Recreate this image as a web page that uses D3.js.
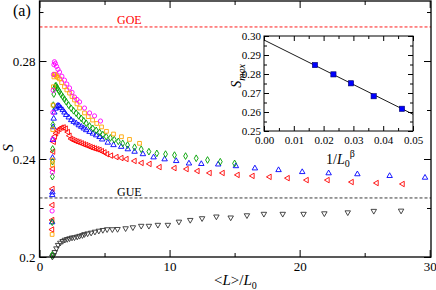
<!DOCTYPE html>
<html>
<head>
<meta charset="utf-8">
<script src="https://cdn.jsdelivr.net/npm/d3@7"></script>
<style>
  body { margin: 0; background: #fff; }
  svg { display: block; }
</style>
</head>
<body>
<div id="chart"></div>
<script>
// main panel ticks
const xMajor = [0, 10, 20, 30];
const xMinor = [5, 15, 25];
const yMajor = [0.2, 0.24, 0.28];
const yMajorLabels = ["0.2", "0.24", "0.28"];
const yMinor = [0.22, 0.26, 0.3];

// reference levels
const goeLevel = 0.2939;
const gueLevel = 0.2241;

// S vs <L>/L0, one list per L0
const magentaPts = [
  [0.97, 0.2188], [0.99, 0.2346], [1.01, 0.248], [1.03, 0.259], [1.05, 0.268],
  [1.08, 0.2745], [1.11, 0.2785], [1.15, 0.2797], [1.22, 0.279], [1.31, 0.2778],
  [1.42, 0.2766], [1.54, 0.2755], [1.72, 0.2738], [1.92, 0.2722], [2.1, 0.2706],
  [2.31, 0.269], [2.5, 0.2672], [2.69, 0.2653], [2.88, 0.2643], [3.08, 0.2633],
  [3.46, 0.2608], [3.85, 0.2588], [4.23, 0.2576], [4.69, 0.2555]
];
const orangePts = [
  [0.97, 0.2092], [0.99, 0.2376], [1.0, 0.2396], [1.02, 0.252], [1.04, 0.262],
  [1.07, 0.2695], [1.11, 0.2735], [1.15, 0.2746], [1.22, 0.2744], [1.31, 0.2738],
  [1.42, 0.2733], [1.54, 0.2727], [1.7, 0.2712], [1.92, 0.2695], [2.1, 0.2682],
  [2.31, 0.2669], [2.5, 0.2655], [2.69, 0.2641], [2.88, 0.2625], [3.08, 0.2608],
  [3.46, 0.2588], [3.75, 0.2573], [4.08, 0.2559], [4.4, 0.2545], [4.77, 0.2531],
  [5.15, 0.2513], [5.69, 0.2502], [6.3, 0.2491], [6.92, 0.248], [7.69, 0.2464]
];
const greenPts = [
  [0.97, 0.2008], [0.98, 0.2142], [0.99, 0.2328], [1.0, 0.2389], [1.01, 0.2441],
  [1.03, 0.254], [1.06, 0.262], [1.1, 0.2665], [1.16, 0.269], [1.22, 0.2698],
  [1.28, 0.2699], [1.36, 0.269], [1.45, 0.2682], [1.54, 0.2675], [1.66, 0.2664],
  [1.79, 0.2654], [1.92, 0.2644], [2.05, 0.2634], [2.24, 0.262], [2.44, 0.2607],
  [2.62, 0.2597], [2.82, 0.2587], [3.01, 0.2576], [3.21, 0.2566], [3.4, 0.2556],
  [3.59, 0.2546], [3.85, 0.2535], [4.1, 0.2525], [4.36, 0.2517], [4.62, 0.2509],
  [4.87, 0.25], [5.13, 0.2491], [5.45, 0.2486], [5.75, 0.2479], [6.06, 0.2472],
  [6.4, 0.2464], [6.77, 0.2457], [7.31, 0.2448], [7.82, 0.244], [8.41, 0.243],
  [9.02, 0.2423], [9.69, 0.242], [10.38, 0.2416], [11.23, 0.2412], [12.05, 0.2403],
  [12.92, 0.2396], [13.9, 0.2389], [15.0, 0.2382]
];
const bluePts = [
  [0.97, 0.2142], [0.98, 0.2253], [0.99, 0.2264], [1.0, 0.2405], [1.02, 0.2478],
  [1.05, 0.253], [1.09, 0.2565], [1.14, 0.259], [1.22, 0.2606], [1.32, 0.2614],
  [1.42, 0.2618], [1.52, 0.2616], [1.64, 0.2608], [1.79, 0.26], [1.92, 0.259],
  [2.05, 0.258], [2.25, 0.257], [2.44, 0.2559], [2.63, 0.2552], [2.82, 0.2546],
  [3.02, 0.2538], [3.21, 0.2532], [3.4, 0.2525], [3.59, 0.2518], [3.85, 0.2511],
  [4.1, 0.2504], [4.36, 0.2497], [4.62, 0.249], [4.82, 0.248], [5.25, 0.2467],
  [5.69, 0.2457], [6.28, 0.245], [6.79, 0.244], [7.31, 0.243], [7.95, 0.242],
  [8.77, 0.2407], [9.62, 0.2399], [10.51, 0.2392], [11.49, 0.2382], [12.44, 0.238],
  [13.74, 0.2378], [15.1, 0.2371], [16.56, 0.2362], [18.38, 0.2355], [20.2, 0.2347],
  [22.23, 0.2342], [24.44, 0.2338], [26.92, 0.2331], [29.64, 0.2324]
];
const redPts = [
  [0.97, 0.2112], [0.98, 0.2151], [0.99, 0.2212], [1.0, 0.2278], [1.02, 0.236],
  [1.05, 0.243], [1.1, 0.247], [1.18, 0.2492], [1.28, 0.2505], [1.4, 0.2515],
  [1.54, 0.2523], [1.7, 0.2528], [1.86, 0.2529], [2.02, 0.2524], [2.18, 0.251],
  [2.31, 0.2495], [2.44, 0.2482], [2.6, 0.2478], [2.76, 0.2474], [2.92, 0.2471],
  [3.08, 0.2468], [3.25, 0.2464], [3.42, 0.246], [3.59, 0.2457], [3.76, 0.2453],
  [3.93, 0.2449], [4.1, 0.2446], [4.27, 0.2443], [4.45, 0.244], [4.62, 0.2437],
  [4.8, 0.2432], [5.0, 0.2427], [5.2, 0.242], [5.5, 0.2414], [5.92, 0.2408],
  [6.3, 0.2404], [6.69, 0.24], [7.31, 0.2392], [7.85, 0.2384], [8.46, 0.238],
  [9.23, 0.2367], [10.38, 0.2363], [11.31, 0.2359], [12.15, 0.2351], [13.08, 0.2343],
  [14.08, 0.2343], [15.23, 0.2335], [16.38, 0.2331], [17.69, 0.2327], [19.08, 0.2322],
  [20.54, 0.2314], [22.15, 0.2314], [24.0, 0.2306], [25.92, 0.2302], [27.92, 0.2298]
];
const blackPts = [
  [0.99, 0.2001], [1.08, 0.2008], [1.18, 0.202], [1.3, 0.2035], [1.43, 0.2049],
  [1.6, 0.2058], [1.78, 0.2065], [1.95, 0.207], [2.13, 0.2073], [2.31, 0.2076],
  [2.5, 0.2079], [2.69, 0.208], [2.9, 0.2083], [3.08, 0.2086], [3.3, 0.2089],
  [3.46, 0.2093], [3.7, 0.2096], [3.97, 0.2099], [4.26, 0.2103], [4.56, 0.2107],
  [4.87, 0.211], [5.2, 0.2113], [5.6, 0.2113], [6.0, 0.2114], [6.62, 0.2117],
  [7.18, 0.2121], [7.82, 0.2127], [8.41, 0.2127], [9.1, 0.2131], [9.87, 0.2131],
  [10.72, 0.2144], [11.59, 0.2151], [12.5, 0.2158], [13.6, 0.2165], [14.7, 0.2161],
  [15.95, 0.217], [17.25, 0.2176], [18.7, 0.2176], [20.3, 0.2176], [21.9, 0.2178],
  [23.7, 0.2182], [25.7, 0.2188], [27.8, 0.2189]
];

// inset: S_max vs 1/L0^beta
const insetX = [0.0171, 0.0233, 0.0292, 0.0368, 0.0463];
const insetY = [0.2847, 0.2798, 0.2751, 0.2683, 0.2617];
const fitX = [0, 0.05];
const fitY = [0.2979, 0.2588];
const insetXTicks = [0, 0.01, 0.02, 0.03, 0.04, 0.05];
const insetXMinor = [0.005, 0.015, 0.025, 0.035, 0.045];
const insetYTicks = [0.25, 0.26, 0.27, 0.28, 0.29, 0.3];
const insetYMinor = [0.255, 0.265, 0.275, 0.285, 0.295];

const W = 436, H = 290;
const serif = "'Liberation Serif', 'DejaVu Serif', 'Times New Roman', Times, serif";

const svg = d3.select("#chart").append("svg")
  .attr("width", W).attr("height", H)
  .style("font-family", serif);

const x = d3.scaleLinear().domain([0, 30.1]).range([39.5, 431]);
const y = d3.scaleLinear().domain([0.2, 0.3045]).range([257, 1]);
const [x0, x1] = x.range();
const [y0, y1] = y.range();

function styleAxis(g, size) {
  g.attr("font-family", null);
  g.select(".domain").remove();
  g.selectAll(".tick line").attr("stroke", "#000").attr("stroke-width", 1);
  g.selectAll("text").attr("fill", "#000").attr("font-size", size)
    .style("font-family", serif);
}

// ticks: inward, mirrored on all sides
svg.append("g").attr("transform", `translate(0,${y0})`)
  .call(d3.axisBottom(x).tickValues(xMajor).tickSize(-7).tickPadding(5).tickFormat(d3.format("d")))
  .call(g => styleAxis(g, "13px"));
svg.append("g").attr("transform", `translate(0,${y0})`)
  .call(d3.axisBottom(x).tickValues(xMinor).tickSize(-4).tickFormat(""))
  .call(g => styleAxis(g, "13px"));
svg.append("g").attr("transform", `translate(0,${y1})`)
  .call(d3.axisTop(x).tickValues(xMajor).tickSize(-7).tickFormat(""))
  .call(g => styleAxis(g, "13px"));
svg.append("g").attr("transform", `translate(0,${y1})`)
  .call(d3.axisTop(x).tickValues(xMinor).tickSize(-4).tickFormat(""))
  .call(g => styleAxis(g, "13px"));

svg.append("g").attr("transform", `translate(${x0},0)`)
  .call(d3.axisLeft(y).tickValues(yMajor).tickSize(-7).tickPadding(4)
    .tickFormat((d, i) => yMajorLabels[i]))
  .call(g => styleAxis(g, "13px"));
svg.append("g").attr("transform", `translate(${x0},0)`)
  .call(d3.axisLeft(y).tickValues(yMinor).tickSize(-4).tickFormat(""))
  .call(g => styleAxis(g, "13px"));
svg.append("g").attr("transform", `translate(${x1},0)`)
  .call(d3.axisRight(y).tickValues(yMajor).tickSize(-7).tickFormat(""))
  .call(g => styleAxis(g, "13px"));
svg.append("g").attr("transform", `translate(${x1},0)`)
  .call(d3.axisRight(y).tickValues(yMinor).tickSize(-4).tickFormat(""))
  .call(g => styleAxis(g, "13px"));

// GOE / GUE reference lines
svg.append("line")
  .attr("x1", x0).attr("x2", x1)
  .attr("y1", y(goeLevel)).attr("y2", y(goeLevel))
  .attr("stroke", "#ff0000").attr("stroke-width", 0.9)
  .attr("stroke-dasharray", "3 2");
svg.append("text")
  .attr("x", 117).attr("y", y(goeLevel) - 3)
  .attr("font-size", "12px").attr("fill", "#ff0000")
  .text("GOE");

svg.append("line")
  .attr("x1", x0).attr("x2", x1)
  .attr("y1", y(gueLevel)).attr("y2", y(gueLevel))
  .attr("stroke", "#222").attr("stroke-width", 0.9)
  .attr("stroke-dasharray", "3 2");
svg.append("text")
  .attr("x", 117).attr("y", y(gueLevel) - 2)
  .attr("font-size", "12px").attr("fill", "#000")
  .text("GUE");

// series markers
const series = [
  { pts: blackPts, shape: d3.symbolTriangle, rot: 180, color: "#333", size: 13 },
  { pts: redPts, shape: d3.symbolTriangle, rot: -90, color: "#ff0000", size: 13 },
  { pts: bluePts, shape: d3.symbolTriangle, rot: 0, color: "#0000ff", size: 13 },
  { pts: greenPts, shape: d3.symbolDiamond, rot: 0, color: "#00a000", size: 13 },
  { pts: orangePts, shape: d3.symbolSquare, rot: 0, color: "#ffa500", size: 14 },
  { pts: magentaPts, shape: d3.symbolCircle, rot: 0, color: "#ff00ff", size: 14 }
];

series.forEach(s => {
  const path = d3.symbol().type(s.shape).size(s.size)();
  svg.append("g").selectAll("path")
    .data(s.pts)
    .join("path")
    .attr("d", path)
    .attr("transform", d => `translate(${x(d[0])},${y(d[1])}) rotate(${s.rot})`)
    .attr("fill", "none")
    .attr("stroke", s.color)
    .attr("stroke-width", 0.9);
});

// frame
svg.append("rect")
  .attr("x", x0).attr("y", y1)
  .attr("width", x1 - x0).attr("height", y0 - y1)
  .attr("fill", "none").attr("stroke", "#000").attr("stroke-width", 1.3);

// panel tag
svg.append("text")
  .attr("x", 13).attr("y", 16)
  .attr("font-size", "16px").attr("fill", "#000")
  .text("(a)");

// axis titles
const xTitle = svg.append("text")
  .attr("x", 214).attr("y", 285)
  .attr("font-size", "15px").attr("fill", "#000");
xTitle.append("tspan").text("<");
xTitle.append("tspan").attr("font-style", "italic").text("L");
xTitle.append("tspan").text(">/");
xTitle.append("tspan").attr("font-style", "italic").text("L");
xTitle.append("tspan").attr("dy", 4).attr("font-size", "10px").text("0");

svg.append("text")
  .attr("transform", "translate(13,148) rotate(-90)")
  .attr("text-anchor", "middle")
  .attr("font-size", "15px").attr("font-style", "italic").attr("fill", "#000")
  .text("S");

// inset
const xi = d3.scaleLinear().domain([0, 0.05]).range([264, 413]);
const yi = d3.scaleLinear().domain([0.25, 0.3]).range([131, 36]);
const [ix0, ix1] = xi.range();
const [iy0, iy1] = yi.range();

svg.append("rect")
  .attr("x", ix0).attr("y", iy1)
  .attr("width", ix1 - ix0).attr("height", iy0 - iy1)
  .attr("fill", "#fff");

svg.append("g").attr("transform", `translate(0,${iy0})`)
  .call(d3.axisBottom(xi).tickValues(insetXTicks).tickSize(-5).tickPadding(5).tickFormat(d3.format(".2f")))
  .call(g => styleAxis(g, "11px"));
svg.append("g").attr("transform", `translate(0,${iy0})`)
  .call(d3.axisBottom(xi).tickValues(insetXMinor).tickSize(-3).tickFormat(""))
  .call(g => styleAxis(g, "11px"));
svg.append("g").attr("transform", `translate(0,${iy1})`)
  .call(d3.axisTop(xi).tickValues(insetXTicks).tickSize(-5).tickFormat(""))
  .call(g => styleAxis(g, "11px"));
svg.append("g").attr("transform", `translate(0,${iy1})`)
  .call(d3.axisTop(xi).tickValues(insetXMinor).tickSize(-3).tickFormat(""))
  .call(g => styleAxis(g, "11px"));
svg.append("g").attr("transform", `translate(${ix0},0)`)
  .call(d3.axisLeft(yi).tickValues(insetYTicks).tickSize(-5).tickPadding(3).tickFormat(d3.format(".2f")))
  .call(g => styleAxis(g, "11px"));
svg.append("g").attr("transform", `translate(${ix0},0)`)
  .call(d3.axisLeft(yi).tickValues(insetYMinor).tickSize(-3).tickFormat(""))
  .call(g => styleAxis(g, "11px"));
svg.append("g").attr("transform", `translate(${ix1},0)`)
  .call(d3.axisRight(yi).tickValues(insetYTicks).tickSize(-5).tickFormat(""))
  .call(g => styleAxis(g, "11px"));
svg.append("g").attr("transform", `translate(${ix1},0)`)
  .call(d3.axisRight(yi).tickValues(insetYMinor).tickSize(-3).tickFormat(""))
  .call(g => styleAxis(g, "11px"));

svg.append("rect")
  .attr("x", ix0).attr("y", iy1)
  .attr("width", ix1 - ix0).attr("height", iy0 - iy1)
  .attr("fill", "none").attr("stroke", "#000").attr("stroke-width", 1);

svg.append("path")
  .datum(fitX.map((v, i) => [v, fitY[i]]))
  .attr("fill", "none").attr("stroke", "#000").attr("stroke-width", 0.9)
  .attr("d", d3.line().x(d => xi(d[0])).y(d => yi(d[1])));

svg.append("g").selectAll("rect")
  .data(insetX.map((v, i) => [v, insetY[i]]))
  .join("rect")
  .attr("x", d => xi(d[0]) - 2.6).attr("y", d => yi(d[1]) - 2.6)
  .attr("width", 5.2).attr("height", 5.2)
  .attr("fill", "#0000ff").attr("stroke", "#000066").attr("stroke-width", 0.6);

const ixTitle = svg.append("text")
  .attr("x", 326).attr("y", 164)
  .attr("font-size", "14px").attr("fill", "#000");
ixTitle.append("tspan").text("1/");
ixTitle.append("tspan").attr("font-style", "italic").text("L");
ixTitle.append("tspan").attr("dy", 3).attr("font-size", "10px").text("0");
ixTitle.append("tspan").attr("dy", -10).attr("font-size", "10px").text("β");

const iyTitle = svg.append("text")
  .attr("transform", "translate(241,76) rotate(-90)")
  .attr("text-anchor", "middle")
  .attr("font-size", "14px").attr("font-style", "italic").attr("fill", "#000");
iyTitle.append("tspan").text("S");
iyTitle.append("tspan").attr("dy", 4).attr("font-size", "10px").text("max");
</script>
</body>
</html>
